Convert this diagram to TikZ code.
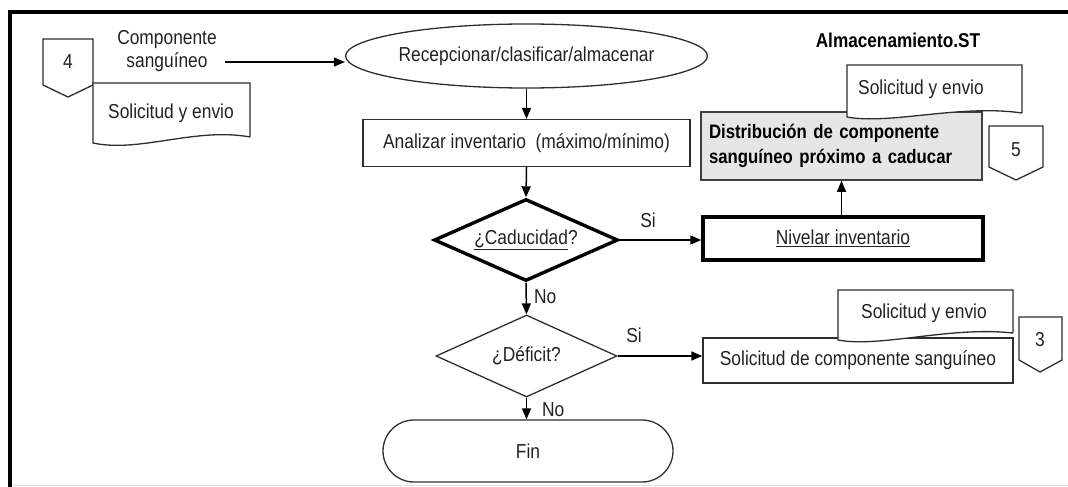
\documentclass[tikz,border=0pt]{standalone}
\usepackage{fontspec}
\setmainfont[FakeStretch=0.86]{Liberation Sans}
\usetikzlibrary{shapes.geometric,arrows.meta}
\definecolor{ink}{HTML}{222222}
\definecolor{edge}{HTML}{2E2E2E}
\definecolor{panel}{HTML}{E6E6E6}
\begin{document}
\begin{tikzpicture}[x=1pt,y=-1pt,
  font=\fontsize{20.2}{24}\selectfont, text=ink,
  line/.style={draw=edge, line width=1.3pt},
  heavy/.style={draw=black, line width=3.4pt},
  arr/.style={draw=black, line width=1.5pt, -{Triangle[length=11pt,width=9pt]}},
  boxn/.style={line, rectangle, inner sep=0pt, align=center},
  decision/.style={diamond, inner sep=0pt, aspect=2.24},
  lbl/.style={inner sep=0pt}
]
\useasboundingbox (0,0) rectangle (1068,487);

% page frame
\draw[black, line width=4pt] (8,12) -- (1068,12);
\draw[black, line width=4pt] (10,10) -- (10,487);
\draw[black!12, line width=1pt] (12,485.5) -- (1068,485.5);

% title
\node[lbl, font=\fontsize{20}{24}\selectfont\bfseries, text=black] (title) at (898,40) {Almacenamiento.ST};

% incoming off-page connector 4 and its document
\draw[line, fill=white] (43,39) -- (93,39) -- (93,85) -- (68,97) -- (43,85) -- cycle;
\node[lbl] (c4) at (68,62) {4};
\draw[line, fill=white] (250,137) -- (250,83) -- (93,83) -- (93,143)
  .. controls (140,153) and (195,127) .. (250,137);
\node[lbl] (d4) at (171,113) {Solicitud y envio};
\node[lbl, align=center, font=\fontsize{20.2}{23}\selectfont] (comp) at (167,51) {Componente\\sanguíneo};
\coordinate (compout) at (225,62);

% main flow
\node[line, ellipse, inner sep=0pt, minimum width=353, minimum height=64] (rec) at (526.5,56) {Recepcionar/clasificar/almacenar};
\node[boxn, minimum width=327, minimum height=47] (ana) at (526.5,143) {Analizar inventario\ \ (máximo/mínimo)};
\node[decision, heavy, minimum width=184, minimum height=82] (cad) at (526,240) {\underline{¿Caducidad}?};
\node[boxn, heavy, minimum width=280, minimum height=43] (niv) at (843,238.5) {\underline{Nivelar inventario}};
\node[boxn, fill=panel, draw=black!75, line width=1.5pt, minimum width=281, minimum height=68,
      text width=265, align=left, text=black, font=\fontsize{19.5}{25}\selectfont\bfseries] (dist) at (841.5,146)
  {Distribución de componente\\sanguíneo próximo a caducar};
\node[decision, line, minimum width=181, minimum height=82] (def) at (526.5,356) {¿Déficit?};
\node[boxn, minimum width=310, minimum height=45] (sol) at (858,360.5) {Solicitud de componente sanguíneo};
\node[line, rectangle, rounded corners=31, inner sep=0pt, minimum width=290, minimum height=62] (fin) at (528,451) {Fin};

% outgoing document and connector 5
\draw[line, fill=white] (1022,113) -- (1022,65) -- (847,65) -- (847,117)
  .. controls (890,125) and (960,104) .. (1022,113);
\node[lbl] (d5) at (921,89) {Solicitud y envio};
\draw[line, fill=white] (989,126) -- (1043,126) -- (1043,167) -- (1016,180) -- (989,167) -- cycle;
\node[lbl] (c5) at (1016,150) {5};

% outgoing document and connector 3
\draw[line, fill=white] (1013,333) -- (1013,290) -- (838,290) -- (838,340)
  .. controls (880,348) and (950,326) .. (1013,333);
\node[lbl] (d3) at (924,313) {Solicitud y envio};
\draw[line, fill=white] (1019,317) -- (1062,317) -- (1062,360) -- (1040,372) -- (1019,360) -- cycle;
\node[lbl] (c3) at (1040,340) {3};

% connectors
\draw[arr] (compout) -- (rec.west |- compout);
\draw[arr] (rec.south) -- (ana.north);
\draw[arr] (ana.south) -- (cad.north);
\draw[arr] (cad.east) -- (niv.west |- cad.east);
\draw[arr] (niv.north -| dist.south) -- (dist.south);
\draw[arr] (cad.south) -- (def.north);
\draw[arr] (def.east) -- (sol.west |- def.east);
\draw[arr] (def.south) -- (def.south |- fin.north);

% branch labels
\node[lbl] (si1) at (648,220) {Si};
\node[lbl, anchor=west] (no1) at (534,297) {No};
\node[lbl] (si2) at (634,335) {Si};
\node[lbl, anchor=west] (no2) at (542,410) {No};
\end{tikzpicture}
\end{document}
